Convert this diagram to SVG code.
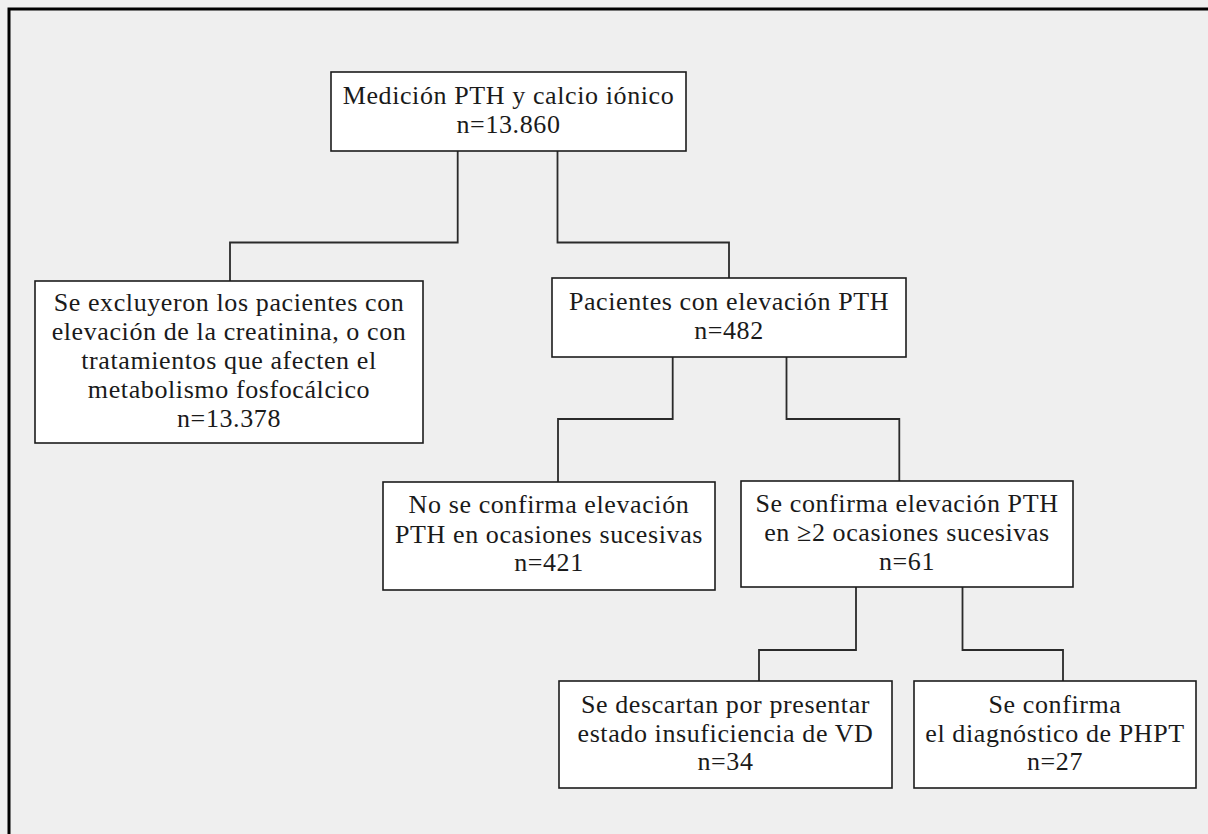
<svg xmlns="http://www.w3.org/2000/svg" width="1208" height="834" viewBox="0 0 1208 834">
<style>
.bg{fill:#efefef}
.frame{fill:none;stroke:#000;stroke-width:3}
.box{fill:#fff;stroke:#1c1c1c;stroke-width:1.6}
.con{fill:none;stroke:#2a2a2a;stroke-width:1.8}
text{font-family:"Liberation Serif","Times New Roman",serif;font-size:26px;fill:#1a1a1a;text-anchor:middle;letter-spacing:0.6px}
</style>
<rect class="bg" x="0" y="0" width="1208" height="834"/>
<rect class="frame" x="9" y="9" width="1300" height="900"/>
<g id="connectors">
<polyline class="con" points="457.7,151 457.7,242.5 230,242.5 230,281"/>
<polyline class="con" points="557.5,151 557.5,242.5 729,242.5 729,278"/>
<polyline class="con" points="672.7,357 672.7,419 558,419 558,482"/>
<polyline class="con" points="786.5,357 786.5,419 899.3,419 899.3,481"/>
<polyline class="con" points="856,587 856,650 759,650 759,681"/>
<polyline class="con" points="962.5,587 962.5,650 1063,650 1063,681"/>
</g>
<g id="n1">
<rect class="box" x="331" y="72" width="355" height="79"/>
<text x="508.5" y="104">Medición PTH y calcio iónico</text>
<text x="508.5" y="133">n=13.860</text>
</g>
<g id="n2">
<rect class="box" x="35" y="281" width="388" height="162"/>
<text x="229" y="311">Se excluyeron los pacientes con</text>
<text x="229" y="340">elevación de la creatinina, o con</text>
<text x="229" y="369">tratamientos que afecten el</text>
<text x="229" y="398">metabolismo fosfocálcico</text>
<text x="229" y="427">n=13.378</text>
</g>
<g id="n3">
<rect class="box" x="552" y="278" width="354" height="79"/>
<text x="729" y="310">Pacientes con elevación PTH</text>
<text x="729" y="339">n=482</text>
</g>
<g id="n4">
<rect class="box" x="383" y="482" width="332" height="108"/>
<text x="549" y="513">No se confirma elevación</text>
<text x="549" y="543">PTH en ocasiones sucesivas</text>
<text x="549" y="571">n=421</text>
</g>
<g id="n5">
<rect class="box" x="741" y="481" width="332" height="106"/>
<text x="907" y="512">Se confirma elevación PTH</text>
<text x="907" y="541">en ≥2 ocasiones sucesivas</text>
<text x="907" y="570">n=61</text>
</g>
<g id="n6">
<rect class="box" x="559" y="681" width="333" height="107"/>
<text x="725.5" y="713">Se descartan por presentar</text>
<text x="725.5" y="742">estado insuficiencia de VD</text>
<text x="725.5" y="770">n=34</text>
</g>
<g id="n7">
<rect class="box" x="914" y="681" width="282" height="107"/>
<text x="1055" y="713">Se confirma</text>
<text x="1055" y="742">el diagnóstico de PHPT</text>
<text x="1055" y="770">n=27</text>
</g>
</svg>
